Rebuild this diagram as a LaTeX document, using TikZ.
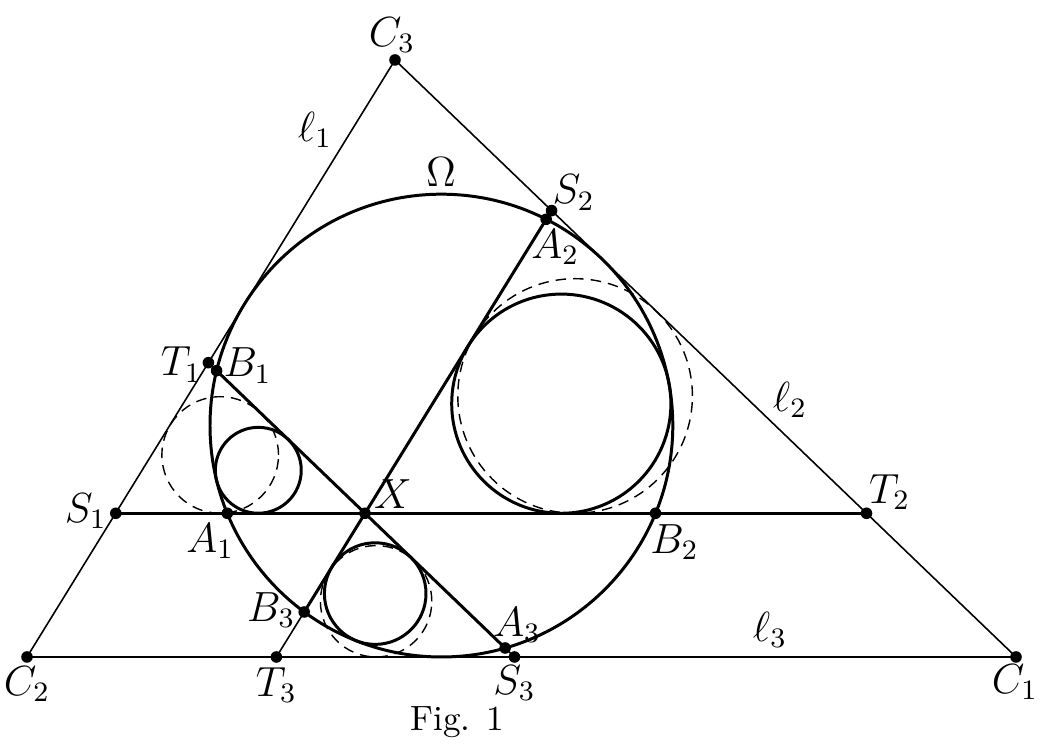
\documentclass[tikz,border=0pt]{standalone}
\usepackage{amsmath, amssymb}
\usepackage{tikz}
\usetikzlibrary{calc}

\begin{document}
\begin{tikzpicture}[
    sideline/.style={line width=0.45pt},
    chordline/.style={line width=0.85pt},
    incirc/.style={line width=0.4pt, dash pattern=on 3pt off 2pt},
    curvcirc/.style={line width=0.85pt},
    dot/.style={circle, fill=black, inner sep=0pt, minimum size=3.3pt},
    every node/.style={font=\large}
]
\useasboundingbox (0,0) rectangle (10.5,7.45);
%% Triangle C1 C2 C3
\coordinate (C1) at (10.16, 0.88);
\coordinate (C2) at (0.27, 0.88);
\coordinate (C3) at (3.95, 6.85);
\coordinate (X)  at (3.65, 2.317);
%% incircle Omega
\coordinate (O) at (4.414, 3.194);
%% lines through X parallel to the sides
\coordinate (S1) at (1.158, 2.317);
\coordinate (T2) at (8.665, 2.317);
\coordinate (A1) at (2.273, 2.317);
\coordinate (B2) at (6.555, 2.317);
\coordinate (S2) at (5.516, 5.344);
\coordinate (T3) at (2.764, 0.88);
\coordinate (A2) at (5.462, 5.257);
\coordinate (B3) at (3.042, 1.330);
\coordinate (T1) at (2.084, 3.823);
\coordinate (S3) at (5.145, 0.88);
\coordinate (B1) at (2.166, 3.743);
\coordinate (A3) at (5.051, 0.970);
%% sides
\draw[sideline] (C2) -- (C3) -- (C1) -- cycle;
\draw[sideline] (T1) -- (B1);
\draw[sideline] (A3) -- (S3);
\draw[sideline] (T3) -- (B3);
\draw[sideline] (A2) -- (S2);
%% Omega and chords
\draw[curvcirc] (O) circle (2.314);
\draw[chordline] (S1) -- (T2);
\draw[chordline] (B1) -- (A3);
\draw[chordline] (B3) -- (A2);
%% incircles of the small triangles
\draw[incirc] (2.202, 2.900) circle (0.583);
\draw[incirc] (5.751, 3.490) circle (1.173);
\draw[incirc] (3.761, 1.437) circle (0.557);
%% circles tangent to Omega
\draw[curvcirc] (2.583, 2.747) circle (0.4295);
\draw[curvcirc] (5.613, 3.413) circle (1.096);
\draw[curvcirc] (3.752, 1.514) circle (0.508);
%% points
\foreach \p in {C1,C2,C3,X,S1,T2,A1,B2,S2,T3,A2,B3,T1,S3,B1,A3}
    \node[dot] (d\p) at (\p) {};
%% labels
\node (lC3) at ($(C3)+(-0.03,0.25)$) {$C_3$};
\node (lC1) at ($(C1)+(-0.01,-0.25)$) {$C_1$};
\node (lC2) at ($(C2)+(0,-0.27)$) {$C_2$};
\node (lT2) at ($(T2)+(0.23,0.21)$) {$T_2$};
\node (lS1) at ($(S1)+(-0.30,0.02)$) {$S_1$};
\node (lX)  at ($(X)+(0.28,0.19)$) {$X$};
\node (lT1) at ($(T1)+(-0.27,-0.02)$) {$T_1$};
\node (lB1) at ($(B1)+(0.31,0.05)$) {$B_1$};
\node (lS2) at ($(S2)+(0.22,0.18)$) {$S_2$};
\node (lA2) at ($(A2)+(0.09,-0.28)$) {$A_2$};
\node (lB3) at ($(B3)+(-0.33,0.02)$) {$B_3$};
\node (lT3) at ($(T3)+(0,-0.28)$) {$T_3$};
\node (lA3) at ($(A3)+(0.12,0.23)$) {$A_3$};
\node (lS3) at ($(S3)+(0,-0.26)$) {$S_3$};
\node (lA1) at ($(A1)+(-0.17,-0.28)$) {$A_1$};
\node (lB2) at ($(B2)+(0.19,-0.29)$) {$B_2$};
\node (ll1) at (3.15, 6.15) {$\ell_1$};
\node (ll2) at (7.90, 3.45) {$\ell_2$};
\node (ll3) at (7.70, 1.15) {$\ell_3$};
\node (lOm) at (4.41, 5.73) {$\Omega$};
\node[font=\normalsize] (cap) at (4.57, 0.23) {Fig. 1};
\end{tikzpicture}
\end{document}
